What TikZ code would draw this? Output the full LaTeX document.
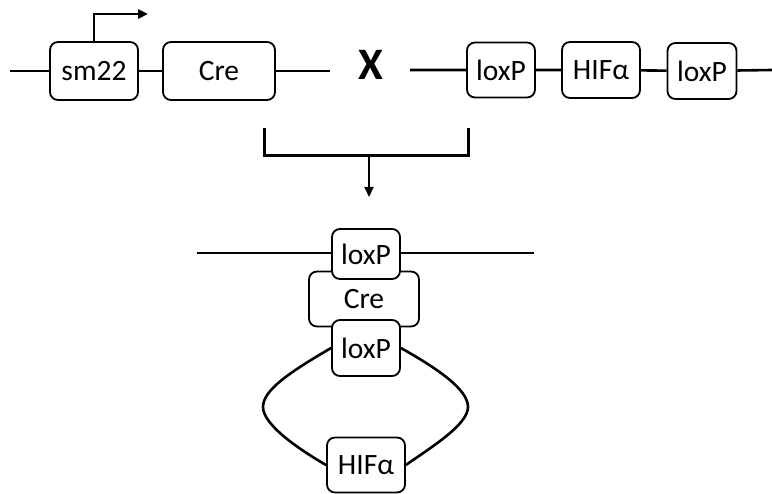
\documentclass[tikz,border=0pt]{standalone}
\usepackage{fontspec}
\setmainfont{Carlito}
\usepackage{tikz}
\usetikzlibrary{arrows.meta}

\begin{document}
\begin{tikzpicture}[x=1pt, y=-1pt]
        \tikzstyle{every node}=[font=\fontsize{29.5}{30}\selectfont]
        \tikzstyle{gene}=[draw, fill=white, rounded corners=8pt, line width=1.8pt, inner sep=0pt]
        \tikzstyle{dna}=[line width=2.6pt]
        \tikzstyle{tip}=[-{Triangle[length=10pt, width=9pt]}]

        \useasboundingbox (0,0) rectangle (772,494);

        % Cre line
        \coordinate (s1) at (10,71);
        \coordinate (e1) at (330,71);
        \node (sm22) [gene, minimum width=88, minimum height=58] at (94,71) {sm22};
        \node (cre)  [gene, minimum width=112, minimum height=58] at (219,71) {Cre};
        \draw[dna] (s1) -- (sm22) (sm22) -- (cre) (cre) -- (e1);
        \coordinate (prom) at (148,14);
        \draw[line width=2.6pt, tip] (sm22.north) |- (prom);

        \node (cross) [font=\fontsize{45}{45}\bfseries\selectfont] at (371,65) {X};

        % floxed line
        \coordinate (s2) at (410,70);
        \coordinate (e2) at (772,70);
        \node (loxa) [gene, minimum width=68, minimum height=55] at (501,70) {loxP};
        \node (hif)  [gene, minimum width=78, minimum height=56] at (601,70) {HIFα};
        \node (loxb) [gene, minimum width=69, minimum height=56] at (702,71) {loxP};
        \draw[dna] (s2) -- (loxa) (loxa) -- (hif) (hif) -- (loxb) (loxb) -- (e2);

        % cross
        \coordinate (bl) at (264,128);
        \coordinate (br) at (468,128);
        \coordinate (bm) at (369,156);
        \coordinate (bd) at (369,197);
        \draw[line width=3pt] (bl) |- (br |- bm) -- (br);
        \draw[line width=2.2pt, tip] (bm) -- (bd);

        % recombination
        \coordinate (s3) at (197,253);
        \coordinate (e3) at (534,253);
        \draw[dna] (s3) -- (e3);
        \node (crep)  [gene, minimum width=110, minimum height=55] at (364,299) {Cre};
        \node (loxc) [gene, minimum width=68, minimum height=50] at (366,254) {loxP};
        \node (loxd) [gene, minimum width=68, minimum height=56] at (366,348) {loxP};
        \node (hifl) [gene, minimum width=78, minimum height=55] at (366,465) {HIFα};
        \draw[dna] (loxd.west) .. controls (290,372) and (263,390) .. (263,407)
            .. controls (263,425) and (300,450) .. (hifl.west);
        \draw[dna] (loxd.east) .. controls (440,370) and (468,390) .. (468,407)
            .. controls (468,425) and (430,448) .. (hifl.east);

\end{tikzpicture}
\end{document}
